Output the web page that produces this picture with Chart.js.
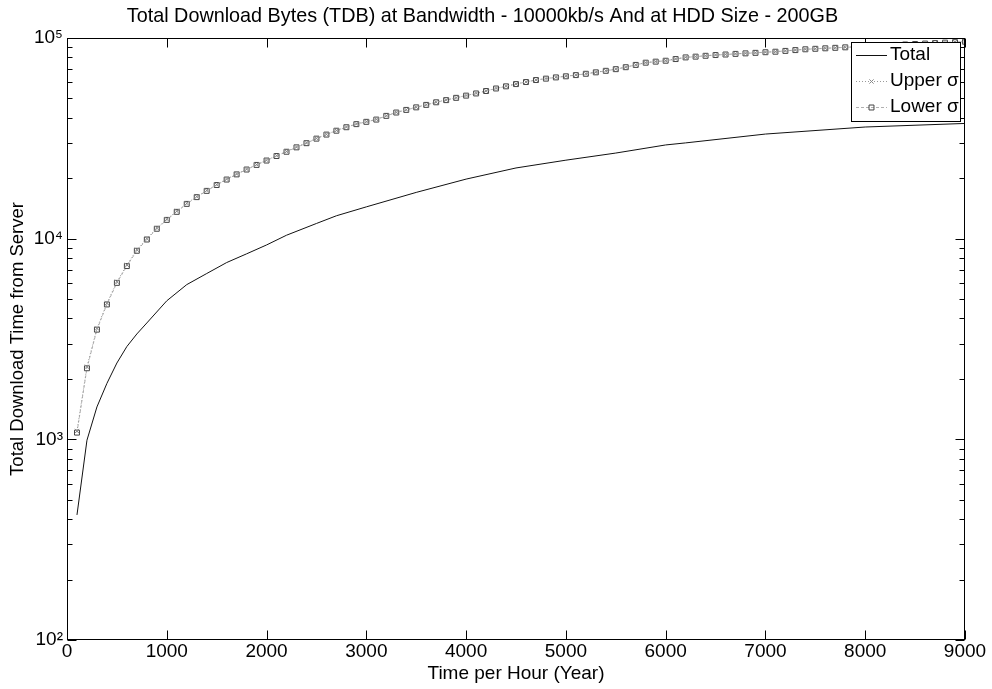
<!DOCTYPE html>
<html>
<head>
<meta charset="utf-8">
<script src="https://cdn.jsdelivr.net/npm/chart.js@4.4.0/dist/chart.umd.min.js"></script>
<style>
  html, body { margin: 0; padding: 0; background: #fff; }
  canvas { display: block; }
</style>
</head>
<body>
<canvas id="c" width="992" height="689"></canvas>
<script>
/* ==========================================
   DATA
   ========================================== */
const totalX = [100, 200, 300, 400, 500, 600, 700, 800, 1000, 1200, 1400, 1600, 1800, 2000, 2200, 2500,
                2700, 3000, 3500, 4000, 4500, 5000, 5500, 6000, 6200, 7000, 8000, 9000];
const totalY = [420, 990, 1450, 1900, 2400, 2900, 3350, 3800, 4900, 5900, 6700, 7600, 8400, 9300, 10400, 11900,
                13000, 14400, 17000, 19800, 22500, 24600, 26700, 29300, 30000, 33200, 36000, 37500];

const sigmaX = [100, 200, 300, 400, 500, 600, 700, 800, 900, 1000,
                1100, 1200, 1300, 1400, 1500, 1600, 1700, 1800, 1900, 2000,
                2100, 2200, 2300, 2400, 2500, 2600, 2700, 2800, 2900, 3000,
                3100, 3200, 3300, 3400, 3500, 3600, 3700, 3800, 3900, 4000,
                4100, 4200, 4300, 4400, 4500, 4600, 4700, 4800, 4900, 5000,
                5100, 5200, 5300, 5400, 5500, 5600, 5700, 5800, 5900, 6000,
                6100, 6200, 6300, 6400, 6500, 6600, 6700, 6800, 6900, 7000,
                7100, 7200, 7300, 7400, 7500, 7600, 7700, 7800, 7900, 8000,
                8100, 8200, 8300, 8400, 8500, 8600, 8700, 8800, 8900, 9000];

const upperY = [1100, 2300, 3570, 4770, 6100, 7400, 8800, 10000, 11300, 12500,
                13700, 15000, 16200, 17400, 18600, 19800, 21000, 22200, 23400, 24600,
                25900, 27200, 28600, 30000, 31600, 33100, 34600, 36000, 37300, 38300,
                39300, 41000, 42600, 43900, 45200, 46500, 47900, 49100, 50400, 51700,
                53000, 54500, 56100, 57500, 59000, 60400, 61800, 62800, 63700, 64500,
                65400, 66400, 67500, 68700, 70000, 71600, 73500, 75400, 76300, 77100,
                78600, 80100, 80800, 81600, 82300, 82800, 83400, 83900, 84400, 85000,
                85500, 86300, 87100, 87900, 88400, 88900, 89400, 89900, 90400, 90900,
                91400, 91900, 92400, 92900, 93400, 93900, 94400, 94900, 95400, 95900];

const lowerY = [1080, 2260, 3520, 4700, 6020, 7300, 8700, 9900, 11200, 12400,
                13600, 14900, 16100, 17300, 18500, 19700, 20900, 22100, 23300, 24500,
                25800, 27100, 28500, 29900, 31500, 33000, 34500, 35900, 37200, 38200,
                39200, 40900, 42500, 43800, 45100, 46400, 47800, 49000, 50300, 51600,
                52900, 54400, 56000, 57400, 58900, 60300, 61700, 62700, 63600, 64400,
                65300, 66300, 67400, 68600, 69900, 71500, 73400, 75300, 76200, 77000,
                78500, 80000, 80700, 81500, 82200, 82700, 83300, 83800, 84300, 84900,
                85400, 86200, 87000, 87800, 88300, 88800, 89300, 89800, 90300, 90800,
                91300, 91800, 92300, 92800, 93300, 93800, 94300, 94800, 95300, 95800];

const xTicks      = [0, 1000, 2000, 3000, 4000, 5000, 6000, 7000, 8000, 9000];
const yDecades    = [100, 1000, 10000, 100000];
const yDecadeText = ['10²', '10³', '10⁴', '10⁵'];
const yMinorSteps = [2, 3, 4, 5, 6, 7, 8, 9];

const TITLE  = 'Total Download Bytes (TDB) at Bandwidth - 10000kb/s And at HDD Size - 200GB';
const FONT   = '"Liberation Sans", Arial, Helvetica, sans-serif';

const toPts = (xs, ys) => xs.map((x, i) => ({ x, y: ys[i] }));

/* ==========================================
   PLUGIN: matlab style box, inward ticks, legend
   ========================================== */
const matlabAxes = {
  id: 'matlabAxes',
  afterDraw(chart) {
    const { ctx, chartArea: a, scales } = chart;
    const L = Math.round(a.left) + 0.5, R = Math.round(a.right) - 0.5;
    const T = Math.round(a.top) + 0.5,  B = Math.round(a.bottom) - 0.5;
    ctx.save();
    ctx.strokeStyle = '#000';
    ctx.lineWidth = 1;
    ctx.strokeRect(L, T, R - L, B - T);

    ctx.beginPath();
    xTicks.forEach(v => {
      const px = Math.round(scales.x.getPixelForValue(v)) + 0.5;
      ctx.moveTo(px, B); ctx.lineTo(px, B - 9);
      ctx.moveTo(px, T); ctx.lineTo(px, T + 9);
    });
    scales.y.ticks.forEach(t => {
      const major = yDecades.includes(t.value);
      const len = major ? 9 : 5;
      const py = Math.round(scales.y.getPixelForValue(t.value)) + 0.5;
      ctx.moveTo(L, py); ctx.lineTo(L + len, py);
      ctx.moveTo(R, py); ctx.lineTo(R - len, py);
    });
    ctx.stroke();

    // legend box
    const bx = 851.5, by = 42.5, bw = 109, bh = 79;
    ctx.fillStyle = '#fff';
    ctx.fillRect(bx, by, bw, bh);
    ctx.strokeRect(bx, by, bw, bh);
    const rows = [55, 81, 107];
    ctx.font = '19px ' + FONT;
    ctx.textBaseline = 'middle';
    chart.data.datasets.forEach((ds, i) => {
      const y = rows[i];
      ctx.save();
      ctx.strokeStyle = ds.borderColor;
      ctx.lineWidth = ds.borderWidth;
      ctx.setLineDash(ds.borderDash || []);
      ctx.beginPath();
      ctx.moveTo(856, y + 0.5); ctx.lineTo(887, y + 0.5);
      ctx.stroke();
      ctx.restore();
      if (ds.pointRadius > 0 && Chart.helpers && Chart.helpers.drawPoint) {
        ctx.save();
        ctx.strokeStyle = ds.pointBorderColor;
        ctx.fillStyle = 'rgba(0,0,0,0)';
        ctx.lineWidth = 1;
        Chart.helpers.drawPoint(ctx, { pointStyle: ds.pointStyle, radius: ds.pointRadius, borderWidth: 1 }, 871.5, y + 0.5);
        ctx.restore();
      }
      ctx.fillStyle = '#000';
      ctx.textAlign = 'left';
      ctx.fillText(ds.label, 890, y);
    });
    ctx.restore();
  }
};

/* ==========================================
   CHART
   ========================================== */
new Chart(document.getElementById('c').getContext('2d'), {
  type: 'scatter',
  data: {
    datasets: [
      {
        label: 'Total',
        data: toPts(totalX, totalY),
        showLine: true,
        borderColor: '#111',
        borderWidth: 1,
        pointRadius: 0,
        tension: 0
      },
      {
        label: 'Upper σ',
        data: toPts(sigmaX, upperY),
        showLine: true,
        borderColor: '#9a9a9a',
        borderWidth: 1,
        borderDash: [1, 2],
        pointStyle: 'crossRot',
        pointRadius: 3,
        pointBorderColor: '#8a8a8a',
        pointBackgroundColor: 'rgba(0,0,0,0)',
        pointBorderWidth: 1
      },
      {
        label: 'Lower σ',
        data: toPts(sigmaX, lowerY),
        showLine: true,
        borderColor: '#b0b0b0',
        borderWidth: 1,
        borderDash: [3, 2],
        pointStyle: 'rect',
        pointRadius: 3.5,
        pointBorderColor: '#444',
        pointBackgroundColor: 'rgba(0,0,0,0)',
        pointBorderWidth: 1
      }
    ]
  },
  options: {
    responsive: false,
    animation: false,
    devicePixelRatio: 1,
    layout: { padding: { left: 0, right: 27, top: 0, bottom: 0 } },
    plugins: {
      legend: { display: false },
      tooltip: { enabled: false },
      title: {
        display: true,
        text: TITLE,
        color: '#000',
        font: { family: FONT, size: 19.8, weight: 'normal', lineHeight: 1.2 },
        padding: { top: 5, bottom: 9.2 }
      }
    },
    scales: {
      x: {
        type: 'linear',
        min: 0,
        max: 9000,
        afterBuildTicks: s => { s.ticks = xTicks.map(v => ({ value: v })); },
        afterFit: s => { s.height = 49; },
        grid: { display: false, drawTicks: false },
        border: { display: false },
        ticks: {
          color: '#000',
          padding: 0,
          autoSkip: false,
          maxRotation: 0,
          font: { family: FONT, size: 19 },
          callback: v => String(v)
        },
        title: {
          display: true,
          text: 'Time per Hour (Year)',
          color: '#000',
          font: { family: FONT, size: 19 },
          padding: { top: 0, bottom: 4 }
        }
      },
      y: {
        type: 'logarithmic',
        min: 100,
        max: 100000,
        afterBuildTicks: s => {
          const t = [];
          yDecades.forEach((d, i) => {
            t.push({ value: d });
            if (i < yDecades.length - 1) yMinorSteps.forEach(m => t.push({ value: d * m }));
          });
          s.ticks = t;
        },
        afterFit: s => { s.width = 67; },
        grid: { display: false, drawTicks: false },
        border: { display: false },
        ticks: {
          color: '#000',
          padding: 4,
          autoSkip: false,
          font: { family: FONT, size: 19 },
          callback: v => {
            const i = yDecades.indexOf(v);
            return i >= 0 ? yDecadeText[i] : '';
          }
        },
        title: {
          display: true,
          text: 'Total Download Time from Server',
          color: '#000',
          font: { family: FONT, size: 18.5 },
          padding: { top: 7, bottom: 0 }
        }
      }
    }
  },
  plugins: [matlabAxes]
});
</script>
</body>
</html>
